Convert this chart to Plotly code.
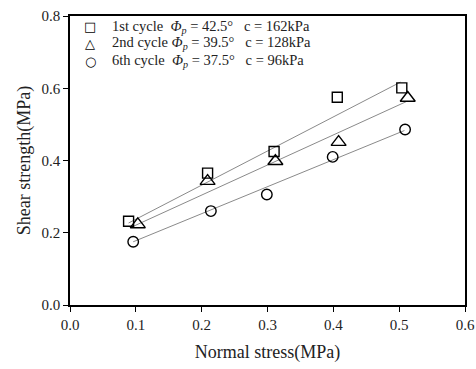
import plotly.graph_objects as go

# Data
sq_x = [0.089, 0.209, 0.310, 0.406, 0.504]
sq_y = [0.232, 0.365, 0.425, 0.575, 0.601]
tri_x = [0.103, 0.209, 0.312, 0.408, 0.513]
tri_y = [0.223, 0.343, 0.398, 0.451, 0.573]
cir_x = [0.096, 0.214, 0.299, 0.399, 0.509]
cir_y = [0.175, 0.260, 0.306, 0.410, 0.486]

# Fit line endpoints
fit1_x = [0.089, 0.502]
fit1_y = [0.227, 0.617]
fit2_x = [0.094, 0.512]
fit2_y = [0.216, 0.564]
fit3_x = [0.096, 0.508]
fit3_y = [0.175, 0.483]

labels = [
    "1st cycle&nbsp;&nbsp;<i>Φ</i><sub><i>p</i></sub> = 42.5°&nbsp;&nbsp; c = 162kPa",
    "2nd cycle&nbsp;<i>Φ</i><sub><i>p</i></sub> = 39.5°&nbsp;&nbsp; c = 128kPa",
    "6th cycle&nbsp;&nbsp;<i>Φ</i><sub><i>p</i></sub> = 37.5°&nbsp;&nbsp; c = 96kPa",
]
legend_glyphs = ["□", "△", "○"]

xticks = [0.0, 0.1, 0.2, 0.3, 0.4, 0.5, 0.6]
yticks = [0.0, 0.2, 0.4, 0.6, 0.8]

fig = go.Figure()
line_style = dict(color="#8a8a8a", width=1)
for fx, fy in [(fit1_x, fit1_y), (fit2_x, fit2_y), (fit3_x, fit3_y)]:
    fig.add_trace(go.Scatter(x=fx, y=fy, mode="lines", line=line_style,
                             showlegend=False, hoverinfo="skip"))

for xs, ys, sym, sz, lab in [
    (sq_x, sq_y, "square-open", 10, labels[0]),
    (tri_x, tri_y, "triangle-up-open", 13, labels[1]),
    (cir_x, cir_y, "circle-open", 10.5, labels[2]),
]:
    fig.add_trace(go.Scatter(x=xs, y=ys, mode="markers", name=lab, showlegend=False,
                             marker=dict(symbol=sym, size=sz, color="black",
                                         line=dict(width=1.4, color="black"))))

font_family = "Liberation Serif, Times New Roman, serif"
axis_common = dict(showline=True, linecolor="black", linewidth=1.5, mirror=True,
                   ticks="outside", ticklen=5, tickcolor="black", tickwidth=1.2,
                   showgrid=False, zeroline=False, automargin=False,
                   tickfont=dict(family=font_family, size=15, color="#222"))

# Legend drawn as annotations (row positions in paper coordinates)
row_y = [0.962, 0.905, 0.843]
for i, (g, lab) in enumerate(zip(legend_glyphs, labels)):
    fig.add_annotation(xref="paper", yref="paper", x=0.051, y=row_y[i],
                       text=f"<b>{g}</b>", showarrow=False, xanchor="center", yanchor="middle",
                       font=dict(family="DejaVu Sans", size=13, color="black"))
    fig.add_annotation(xref="paper", yref="paper", x=0.101, y=row_y[i],
                       text=lab, showarrow=False, xanchor="left", yanchor="middle",
                       font=dict(family=font_family, size=14.5, color="#222"))

fig.update_layout(
    width=476, height=369,
    margin=dict(l=70, r=11, t=16, b=64),
    paper_bgcolor="white", plot_bgcolor="white",
    font=dict(family=font_family, color="#222"),
    showlegend=False,
    xaxis=dict(range=[0, 0.6], tickvals=xticks, ticktext=[f"{v:.1f}" for v in xticks],
               title=dict(text="Normal stress(MPa)", font=dict(size=18, family=font_family), standoff=14),
               **axis_common),
    yaxis=dict(range=[0, 0.8], tickvals=yticks, ticktext=[f"{v:.1f}" for v in yticks],
               title=dict(text="Shear strength(MPa)", font=dict(size=18, family=font_family), standoff=6),
               **axis_common),
)

fig.write_html("out.html", config={"displayModeBar": False},
               post_script="document.body.style.margin='0';document.body.style.padding='0';")
